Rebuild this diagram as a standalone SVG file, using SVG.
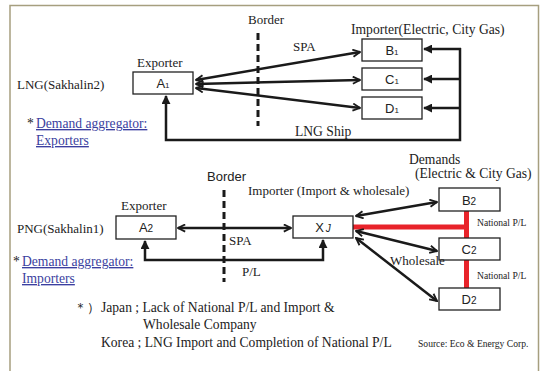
<svg xmlns="http://www.w3.org/2000/svg" width="540" height="371" viewBox="0 0 540 371">
<defs>
<marker id="chev" viewBox="0 0 10 10" refX="9" refY="5" markerWidth="9" markerHeight="9" markerUnits="userSpaceOnUse" orient="auto-start-reverse">
<path d="M1,1 L9,5 L1,9" fill="none" stroke="#1a1a1a" stroke-width="2"/>
</marker>
<marker id="tri" viewBox="0 0 10 10" refX="9" refY="5" markerWidth="9" markerHeight="9" markerUnits="userSpaceOnUse" orient="auto-start-reverse">
<path d="M0,0 L10,5 L0,10 Z" fill="#1a1a1a"/>
</marker>
<style>
.box{fill:#fff;stroke:#222;stroke-width:1.3}
.ln{fill:none;stroke:#1a1a1a;stroke-width:2.5}
.red{fill:none;stroke:#e8232a;stroke-width:5}
.dash{fill:none;stroke:#1a1a1a;stroke-width:3;stroke-dasharray:7 4}
.s{font-family:"Liberation Serif","Times New Roman",serif;font-size:13px;fill:#222}
.m{font-size:13.6px}
.sans{font-family:"Liberation Sans",Arial,sans-serif;font-size:13px;fill:#222}
.lbl{font-family:"Liberation Sans",Arial,sans-serif;font-size:13px;fill:#222;text-anchor:middle}
.sub{font-size:8px}
.blue{font-family:"Liberation Serif","Times New Roman",serif;font-size:13.6px;fill:#3b3fa0;text-decoration:underline}
.small{font-family:"Liberation Serif","Times New Roman",serif;font-size:9.6px;fill:#222}
</style>
</defs>
<path d="M10,371 V5.5 H538.5 V371" fill="none" stroke="#a69f7f" stroke-width="1.5"/>

<g id="connectors">
<line class="dash" x1="258" y1="33" x2="258" y2="126"/>
<line class="dash" x1="224" y1="190" x2="224" y2="282"/>
<line class="ln" x1="196" y1="80" x2="360" y2="52" marker-start="url(#chev)" marker-end="url(#chev)"/>
<line class="ln" x1="196" y1="84" x2="360" y2="80" marker-start="url(#chev)" marker-end="url(#chev)"/>
<line class="ln" x1="196" y1="88" x2="360" y2="108" marker-start="url(#chev)" marker-end="url(#chev)"/>
<path class="ln" d="M460,48 V140 H166 V96" marker-end="url(#tri)"/>
<line class="ln" x1="461" y1="49" x2="424" y2="49" marker-end="url(#tri)"/>
<line class="ln" x1="461" y1="79" x2="424" y2="79" marker-end="url(#tri)"/>
<line class="ln" x1="461" y1="108" x2="424" y2="108" marker-end="url(#tri)"/>

<line class="ln" x1="178" y1="228" x2="291" y2="228" marker-start="url(#chev)" marker-end="url(#chev)"/>
<path class="ln" d="M145,241 V260 H323 V240" marker-start="url(#tri)" marker-end="url(#tri)"/>
<line class="red" x1="353" y1="227" x2="469" y2="227"/>
<line class="red" x1="466.5" y1="211" x2="466.5" y2="238"/>
<line class="red" x1="466.5" y1="260" x2="466.5" y2="288"/>
<line class="ln" x1="356" y1="216" x2="437" y2="202" marker-start="url(#chev)" marker-end="url(#chev)"/>
<line class="ln" x1="356" y1="231" x2="437" y2="251" marker-start="url(#chev)" marker-end="url(#chev)"/>
<line class="ln" x1="356" y1="238" x2="437" y2="301" marker-start="url(#chev)" marker-end="url(#chev)"/>
</g>

<g id="A1"><rect class="box" x="133" y="72" width="60" height="22"/><text class="lbl" x="163" y="88">A<tspan class="sub">1</tspan></text></g>
<g id="B1"><rect class="box" x="362" y="39" width="60" height="22"/><text class="lbl" x="392" y="55">B<tspan class="sub">1</tspan></text></g>
<g id="C1"><rect class="box" x="362" y="68" width="60" height="22"/><text class="lbl" x="392" y="84">C<tspan class="sub">1</tspan></text></g>
<g id="D1"><rect class="box" x="362" y="97" width="60" height="22"/><text class="lbl" x="392" y="113">D<tspan class="sub">1</tspan></text></g>
<g id="A2"><rect class="box" x="116" y="216" width="60" height="23"/><text class="lbl" x="146" y="232">A<tspan font-size="10">2</tspan></text></g>
<g id="XJ"><rect class="box" x="293" y="216" width="60" height="22"/><text class="lbl" x="323" y="232">X<tspan font-size="10" font-style="italic" dx="2">J</tspan></text></g>
<g id="B2"><rect class="box" x="439" y="188" width="61" height="23"/><text class="lbl" x="469" y="205">B<tspan font-size="10">2</tspan></text></g>
<g id="C2"><rect class="box" x="439" y="238" width="61" height="22"/><text class="lbl" x="469" y="254">C<tspan font-size="10">2</tspan></text></g>
<g id="D2"><rect class="box" x="439" y="288" width="61" height="22"/><text class="lbl" x="469" y="304">D<tspan font-size="10">2</tspan></text></g>

<g id="labels">
<text class="s" x="248" y="24">Border</text>
<text class="s" x="293" y="51">SPA</text>
<text class="s m" x="351" y="34">Importer(Electric, City Gas)</text>
<text class="s" x="137" y="67">Exporter</text>
<text class="s" x="17" y="89" font-size="14">LNG(Sakhalin2)</text>
<text class="s m" x="27" y="128" fill="#3b3fa0">*</text>
<text class="blue" x="36" y="128">Demand aggregator:</text>
<text class="blue" x="36" y="145">Exporters</text>
<text class="s m" x="295" y="136">LNG Ship</text>

<text class="sans" x="207" y="181">Border</text>
<text class="s" x="248" y="195">Importer (Import &amp; wholesale)</text>
<text class="s" x="121" y="210">Exporter</text>
<text class="s" x="17" y="233" font-size="13.6">PNG(Sakhalin1)</text>
<text class="s" x="229" y="245">SPA</text>
<text class="s" x="242" y="276">P/L</text>
<text class="s m" x="13" y="266" fill="#3b3fa0">*</text>
<text class="blue" x="22" y="266">Demand aggregator:</text>
<text class="blue" x="22" y="283">Importers</text>
<text class="s m" x="409" y="164">Demands</text>
<text class="s m" x="415" y="178">(Electric &amp; City Gas)</text>
<text class="small" x="477" y="226">National P/L</text>
<text class="small" x="477" y="279">National P/L</text>
<text class="s" x="390" y="265" font-size="12.2">Wholesale</text>

<text class="s" x="74" y="312" font-size="11">＊）</text>
<text class="s m" x="101" y="312">Japan ; Lack of National P/L and Import &amp;</text>
<text class="s m" x="143" y="329">Wholesale Company</text>
<text class="s m" x="101" y="347">Korea ; LNG Import and Completion of National P/L</text>
<text class="small" x="418" y="347" font-size="10">Source: Eco &amp; Energy Corp.</text>
</g>
</svg>
